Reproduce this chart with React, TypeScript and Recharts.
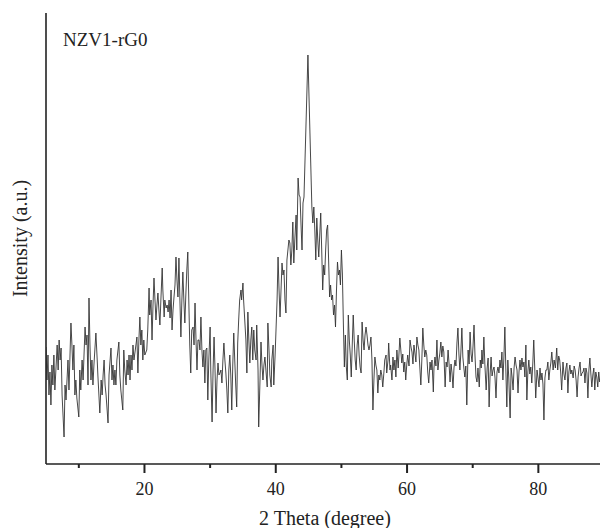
import { LineChart, Line, XAxis, YAxis } from "recharts";

// XRD pattern of NZV1-rG0 as [2θ, intensity (a.u.)]
const lowAngle: [number, number][] = [
  [5.0, 117], [5.15, 84], [5.3, 109], [5.45, 69], [5.6, 92], [5.75, 59], [5.9, 99], [6.05, 79],
  [6.2, 109], [6.35, 74], [6.7, 119], [6.85, 94], [7.0, 124], [7.15, 104], [7.3, 116], [7.45, 69],
  [7.75, 27], [7.9, 79], [8.05, 64], [8.35, 104], [8.5, 74], [8.8, 141], [8.95, 119], [9.1, 94],
  [9.25, 119], [9.4, 69], [9.55, 84], [9.7, 66], [10.0, 47], [10.15, 94], [10.3, 74], [10.5, 104],
  [10.65, 84], [10.95, 137], [11.1, 119], [11.25, 129], [11.4, 79], [11.55, 166], [11.7, 119],
  [11.85, 84], [12.0, 104], [12.15, 79], [12.3, 99], [12.6, 131], [12.8, 104], [12.9, 89],
  [13.2, 51], [13.4, 84], [13.55, 69], [13.7, 89], [13.85, 104], [14.0, 79], [14.15, 69],
  [14.45, 41], [14.6, 89], [14.9, 116], [15.05, 84], [15.2, 99], [15.35, 79], [15.5, 94],
  [15.65, 79], [15.8, 104], [16.1, 122], [16.25, 89], [16.4, 74], [16.7, 54], [16.85, 114],
  [17.0, 94], [17.2, 79], [17.35, 104], [17.5, 89], [17.65, 109], [17.8, 84], [17.95, 109],
  [18.1, 94], [18.25, 119], [18.4, 104], [18.7, 119], [18.85, 127], [19.0, 91], [19.15, 124],
  [19.3, 147], [19.45, 119], [19.6, 134], [19.75, 104], [19.9, 124],
];

const broadHump: [number, number][] = [
  [20.05, 109], [20.35, 114], [20.5, 134], [20.7, 176], [20.8, 149], [21.0, 164], [21.15, 124],
  [21.3, 159], [21.45, 186], [21.6, 164], [21.75, 144], [21.9, 159], [22.05, 171], [22.2, 154],
  [22.35, 139], [22.5, 164], [22.7, 196], [22.8, 174], [23.0, 147], [23.1, 164], [23.3, 156],
  [23.45, 159], [23.6, 152], [23.75, 164], [23.9, 146], [24.05, 174], [24.2, 134], [24.35, 154],
  [24.5, 167], [24.65, 179], [24.8, 207], [24.95, 184], [25.1, 167], [25.25, 206], [25.4, 164],
  [25.55, 127], [25.7, 164], [25.85, 192], [26.0, 164], [26.15, 141], [26.3, 169], [26.45, 194],
  [26.6, 212], [26.75, 164], [26.9, 119], [27.05, 91], [27.2, 134], [27.4, 137], [27.55, 119],
  [27.7, 161], [27.85, 124], [28.0, 94], [28.15, 124], [28.3, 124], [28.45, 114], [28.6, 147],
  [28.75, 114], [28.9, 97], [29.05, 114], [29.2, 81], [29.35, 114], [29.5, 116], [29.65, 64],
  [29.8, 104], [30.0, 137], [30.1, 94], [30.3, 42], [30.45, 94], [30.6, 127], [30.75, 94],
  [30.9, 51], [31.05, 84], [31.2, 101], [31.35, 89], [31.5, 91], [31.65, 94], [31.8, 81],
  [31.95, 104], [32.1, 121], [32.25, 104], [32.4, 91], [32.55, 74], [32.7, 51], [32.85, 94],
  [33.0, 109], [33.15, 89], [33.3, 54], [33.45, 99], [33.6, 131], [33.75, 104], [33.9, 79],
  [34.05, 57], [34.2, 121], [34.35, 144], [34.5, 164], [34.7, 174], [34.8, 164], [35.0, 181],
  [35.1, 164], [35.3, 141], [35.45, 124], [35.6, 91], [35.75, 152], [35.9, 124], [36.05, 101],
  [36.2, 124], [36.35, 137], [36.5, 104], [36.65, 134], [36.8, 114], [37.0, 104], [37.1, 139],
  [37.3, 94], [37.4, 37], [37.6, 84], [37.75, 122], [37.9, 99], [38.05, 84], [38.2, 99],
  [38.35, 107], [38.5, 94], [38.7, 77], [38.8, 141], [39.0, 109], [39.1, 89], [39.3, 77],
  [39.4, 104], [39.6, 119], [39.7, 79], [39.9, 109],
];

const mainPeak: [number, number][] = [
  [40.0, 127], [40.2, 164], [40.35, 207], [40.5, 174], [40.65, 147], [40.8, 174], [40.95, 201],
  [41.1, 189], [41.25, 194], [41.4, 164], [41.55, 151], [41.7, 204], [41.85, 214], [42.0, 224],
  [42.15, 221], [42.3, 199], [42.45, 214], [42.6, 242], [42.75, 201], [42.9, 224], [43.1, 249],
  [43.2, 214], [43.4, 286], [43.55, 269], [43.7, 267], [43.85, 239], [44.0, 214], [44.15, 261],
  [44.3, 267], [44.9, 409], [45.5, 257], [45.65, 241], [45.8, 257], [45.95, 234], [46.1, 204],
  [46.25, 246], [46.4, 224], [46.55, 207], [46.7, 229], [46.85, 251], [47.0, 214], [47.15, 174],
  [47.3, 199], [47.45, 189], [47.6, 214], [47.75, 234], [47.9, 239], [48.05, 204], [48.2, 167],
  [48.35, 179], [48.5, 164], [48.65, 169], [48.8, 149], [48.95, 159], [49.1, 137], [49.25, 174],
  [49.4, 202], [49.55, 189], [49.7, 194], [49.85, 179], [50.0, 214], [50.15, 190], [50.3, 140],
  [50.45, 97], [50.6, 129], [50.75, 97], [50.9, 84],
];

const highAngle: [number, number][] = [
  [51.05, 149], [51.2, 124], [51.35, 109], [51.5, 87], [51.65, 119], [51.8, 149], [51.95, 124],
  [52.1, 104], [52.25, 94], [52.4, 119], [52.55, 129], [52.7, 109], [52.85, 97], [53.0, 91],
  [53.15, 142], [53.3, 124], [53.45, 114], [53.6, 129], [53.75, 137], [53.9, 129], [54.05, 119],
  [54.2, 114], [54.35, 119], [54.5, 127], [54.65, 104], [54.8, 54], [54.95, 84], [55.1, 107],
  [55.25, 99], [55.4, 94], [55.55, 71], [55.7, 89], [55.85, 84], [56.0, 94], [56.15, 89],
  [56.3, 77], [56.5, 94], [56.6, 104], [56.8, 109], [56.9, 91], [57.1, 104], [57.2, 121],
  [57.4, 94], [57.5, 99], [57.7, 84], [57.85, 107], [58.0, 94], [58.15, 104], [58.3, 87],
  [58.45, 114], [58.65, 96], [58.9, 126], [59.05, 114], [59.2, 101], [59.35, 110], [59.5, 92],
  [59.65, 102], [59.8, 84], [59.95, 99], [60.1, 109], [60.3, 98], [60.45, 124], [60.6, 117],
  [60.75, 112], [60.9, 100], [61.05, 119], [61.2, 111], [61.35, 102], [61.5, 127], [61.65, 119],
  [61.8, 114], [61.95, 96], [62.1, 79], [62.25, 104], [62.4, 136], [62.55, 119], [62.7, 107],
  [62.85, 114], [63.0, 109], [63.15, 92], [63.3, 81], [63.5, 102], [63.65, 94], [63.8, 104],
  [64.0, 72], [64.1, 96], [64.25, 107], [64.4, 98], [64.55, 124], [64.7, 94], [64.85, 104],
  [65.0, 111], [65.15, 122], [65.3, 107], [65.45, 118], [65.6, 112], [65.8, 77], [65.95, 102],
  [66.1, 97], [66.25, 114], [66.4, 100], [66.55, 82], [66.7, 100], [66.85, 91], [67.0, 76],
  [67.15, 96], [67.3, 104], [67.45, 98], [67.6, 121], [67.75, 136], [67.9, 110], [68.05, 94],
  [68.2, 112], [68.35, 136], [68.5, 107], [68.65, 96], [68.8, 87], [68.95, 98], [69.1, 59],
  [69.3, 114], [69.45, 100], [69.6, 132], [69.75, 110], [69.9, 102], [70.05, 118], [70.2, 139],
  [70.35, 108], [70.5, 87], [70.65, 82], [70.8, 96], [71.0, 77], [71.15, 104], [71.3, 96],
  [71.4, 114], [71.55, 100], [71.7, 127], [71.85, 100], [72.05, 74], [72.2, 96], [72.35, 106],
  [72.5, 57], [72.65, 90], [72.8, 107], [72.95, 88], [73.1, 94], [73.25, 97], [73.4, 86],
  [73.55, 66], [73.7, 92], [73.85, 97], [74.0, 91], [74.15, 104], [74.3, 96], [74.45, 112],
  [74.6, 84], [74.75, 106], [74.9, 137], [75.05, 94], [75.2, 57], [75.35, 104], [75.5, 86],
  [75.7, 46], [75.85, 96], [76.0, 87], [76.15, 74], [76.3, 96], [76.45, 107], [76.6, 99],
  [76.75, 94], [76.9, 71], [77.05, 92], [77.2, 104], [77.35, 94], [77.5, 106], [77.65, 97],
  [77.8, 102], [77.95, 87], [78.1, 119], [78.25, 64], [78.4, 92], [78.55, 104], [78.7, 90],
  [78.85, 97], [79.0, 81], [79.15, 100], [79.3, 124], [79.45, 96], [79.6, 66], [79.8, 94],
  [79.95, 86], [80.1, 77], [80.25, 96], [80.4, 84], [80.55, 91], [80.7, 80], [80.85, 44],
  [81.0, 86], [81.15, 94], [81.3, 94], [81.45, 102], [81.6, 84], [81.75, 94], [81.9, 101],
  [82.05, 112], [82.25, 94], [82.4, 104], [82.6, 96], [82.8, 116], [82.95, 94], [83.1, 108],
  [83.25, 104], [83.4, 92], [83.55, 74], [83.75, 102], [83.9, 90], [84.05, 84], [84.2, 96],
  [84.35, 101], [84.5, 71], [84.65, 92], [84.8, 99], [84.95, 90], [85.1, 94], [85.3, 86],
  [85.45, 98], [85.6, 94], [85.75, 84], [85.9, 67], [86.05, 87], [86.2, 96], [86.35, 102],
  [86.5, 88], [86.65, 91], [86.8, 92], [86.95, 96], [87.1, 81], [87.25, 96], [87.4, 91],
  [87.55, 66], [87.7, 94], [87.85, 106], [88.0, 90], [88.15, 77], [88.3, 89], [88.45, 96],
  [88.6, 74], [88.75, 92], [88.9, 87], [89.05, 77], [89.2, 92], [89.35, 82], [89.6, 90],
  [89.9, 80],
];

const majorTicks = [20, 40, 60, 80];
const allTicks = [10, 20, 30, 40, 50, 60, 70, 80];

const data = [...lowAngle, ...broadHump, ...mainPeak, ...highAngle].map(([twoTheta, intensity]) => ({
  twoTheta,
  intensity,
}));

const ink = "#222";
const serif = "'Liberation Serif', 'Times New Roman', serif";

const AxisTick = (props: any) => {
  const { x, y, payload } = props;
  const major = majorTicks.includes(payload.value);
  return (
    <g>
      <line x1={x} x2={x} y1={y} y2={y + (major ? 9 : 4)} stroke={ink} strokeWidth={2} />
      {major && (
        <text x={x} y={y + 31} textAnchor="middle" fontFamily={serif} fontSize={18} fill={ink}>
          {payload.value}
        </text>
      )}
    </g>
  );
};

export default function App() {
  return (
    <div
      style={{
        position: "absolute",
        left: 0,
        top: 0,
        width: 600,
        height: 528,
        overflow: "hidden",
        background: "#fff",
      }}
    >
      <LineChart width={610} height={528} data={data} margin={{ top: 13, right: 6, bottom: 0, left: 0 }}>
        <XAxis
          dataKey="twoTheta"
          type="number"
          domain={[5, 90]}
          ticks={allTicks}
          interval={0}
          allowDataOverflow
          height={64}
          tickSize={0}
          tickMargin={0}
          tickLine={false}
          tick={<AxisTick />}
          axisLine={{ stroke: ink, strokeWidth: 1.6 }}
          label={{
            value: "2 Theta (degree)",
            position: "insideBottom",
            offset: 3,
            style: { fontFamily: serif, fontSize: 20, fill: ink },
          }}
        />
        <XAxis
          xAxisId="top"
          orientation="top"
          dataKey="twoTheta"
          type="number"
          domain={[5, 90]}
          height={0}
          tick={false}
          tickLine={false}
          axisLine={{ stroke: ink, strokeWidth: 1.6 }}
        />
        <YAxis
          type="number"
          domain={[0, 451]}
          width={46}
          tick={false}
          tickLine={false}
          axisLine={{ stroke: ink, strokeWidth: 1.6 }}
          label={{
            value: "Intensity (a.u.)",
            angle: -90,
            position: "insideLeft",
            offset: 20,
            style: { fontFamily: serif, fontSize: 20, fill: ink, textAnchor: "middle" },
          }}
        />
        <Line
          type="linear"
          dataKey="intensity"
          stroke="#333"
          strokeWidth={0.9}
          dot={false}
          isAnimationActive={false}
        />
      </LineChart>
      <svg
        width={600}
        height={528}
        style={{ position: "absolute", left: 0, top: 0, pointerEvents: "none" }}
      >
        <text x={63} y={46} fontFamily={serif} fontSize={19} fill={ink}>
          NZV1-rG0
        </text>
      </svg>
    </div>
  );
}
